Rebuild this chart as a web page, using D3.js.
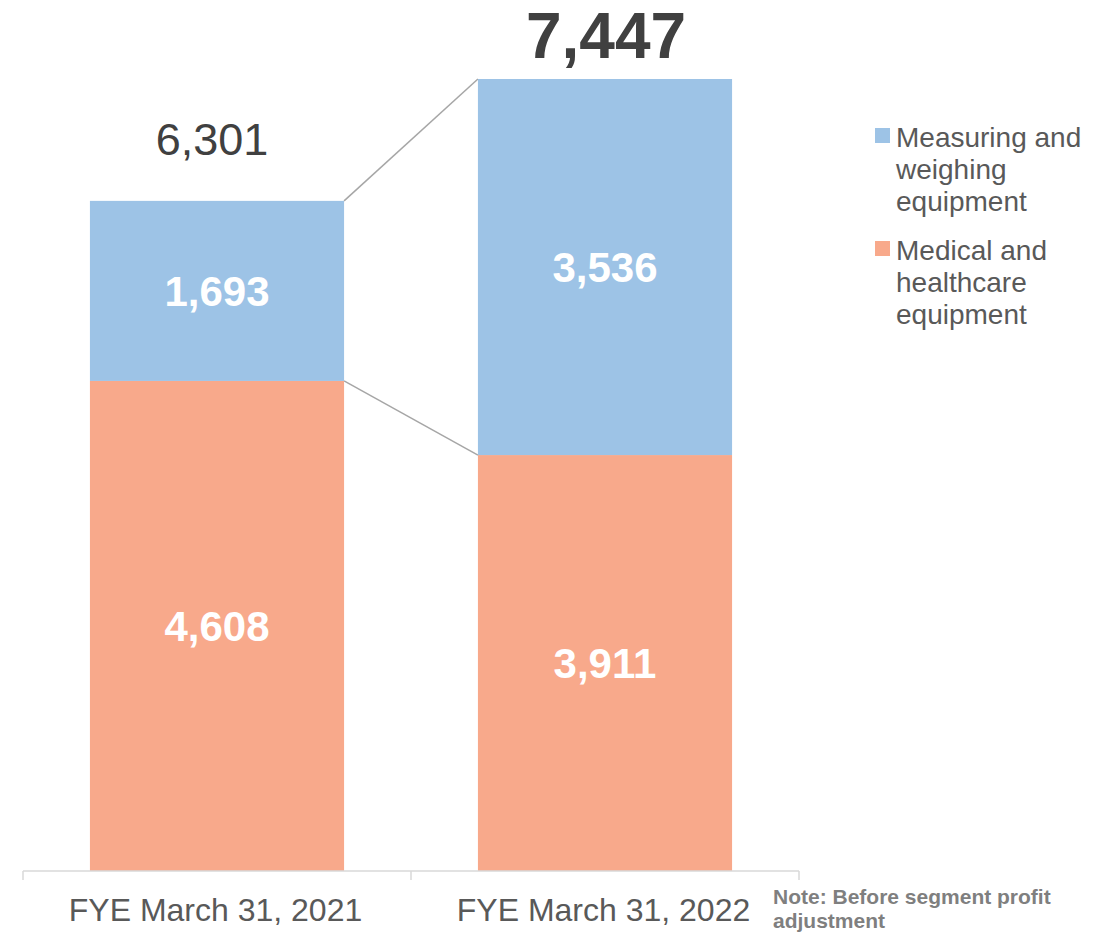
<!DOCTYPE html>
<html>
<head>
<meta charset="utf-8">
<script src="https://cdn.jsdelivr.net/npm/d3@7"></script>
<style>
  body { margin: 0; background: #fff; }
  text { font-family: "Liberation Sans", Arial, sans-serif; }
</style>
</head>
<body>
<script>
// data
var categories = ["FYE March 31, 2021", "FYE March 31, 2022"];
var medical = [4608, 3911];
var measuring = [1693, 3536];
var totals = [6301, 7447];
var seriesNames = [["Measuring and", "weighing", "equipment"], ["Medical and", "healthcare", "equipment"]];
var colors = ["#9dc3e6", "#f8a98b"];

var width = 1111, height = 933;

var svg = d3.select("body").append("svg")
  .attr("width", width)
  .attr("height", height);

var x = d3.scaleBand()
  .domain(categories)
  .range([23, 799])
  .paddingInner(0.345)
  .paddingOuter(0.1725);

var y = d3.scaleLinear()
  .domain([0, 7447])
  .range([871, 79]);

var fmt = d3.format(",");

function label(parent, px, py, str, size, opts) {
  opts = opts || {};
  return parent.append("text")
    .attr("x", px).attr("y", py)
    .attr("text-anchor", opts.anchor || "middle")
    .attr("fill", opts.fill || "#595959")
    .attr("font-weight", opts.bold ? "bold" : "normal")
    .attr("font-size", size)
    .text(str);
}

// stacked rows
var rows = categories.map(function(c, i) {
  return { cat: c, med: medical[i], mea: measuring[i], total: totals[i] };
});

// connector lines between bars
var xr0 = x(categories[0]) + x.bandwidth(), xl1 = x(categories[1]);
svg.append("line")
  .attr("x1", xr0).attr("y1", y(rows[0].med + rows[0].mea))
  .attr("x2", xl1).attr("y2", y(rows[1].med + rows[1].mea))
  .attr("stroke", "#a6a6a6").attr("stroke-width", 1.5);
svg.append("line")
  .attr("x1", xr0).attr("y1", y(rows[0].med))
  .attr("x2", xl1).attr("y2", y(rows[1].med))
  .attr("stroke", "#a6a6a6").attr("stroke-width", 1.5);

// medical (bottom)
svg.selectAll(".med").data(rows).enter().append("rect")
  .attr("x", function(d) { return x(d.cat); })
  .attr("y", function(d) { return y(d.med); })
  .attr("width", x.bandwidth())
  .attr("height", function(d) { return y(0) - y(d.med); })
  .attr("fill", colors[1]);

// measuring (top)
svg.selectAll(".mea").data(rows).enter().append("rect")
  .attr("x", function(d) { return x(d.cat); })
  .attr("y", function(d) { return y(d.med + d.mea); })
  .attr("width", x.bandwidth())
  .attr("height", function(d) { return y(d.med) - y(d.med + d.mea); })
  .attr("fill", colors[0]);

// segment labels
rows.forEach(function(d) {
  var cx = x(d.cat) + x.bandwidth() / 2;
  label(svg, cx, y(d.med / 2) + 15, fmt(d.med), 42, { fill: "#fff", bold: true });
  label(svg, cx, y(d.med + d.mea / 2) + 15, fmt(d.mea), 42, { fill: "#fff", bold: true });
});

// totals
label(svg, x(categories[0]) + x.bandwidth() / 2 - 5, 155, fmt(totals[0]), 45, { fill: "#404040" });
label(svg, x(categories[1]) + x.bandwidth() / 2 + 1, 58, fmt(totals[1]), 64, { fill: "#404040", bold: true });

// x axis
var axis = svg.append("g").attr("transform", "translate(0,871)");
axis.append("line").attr("x1", 23).attr("x2", 799)
  .attr("stroke", "#d9d9d9").attr("stroke-width", 1.5);
[23, 411, 799].forEach(function(t) {
  axis.append("line").attr("x1", t).attr("x2", t).attr("y1", 0).attr("y2", 9)
    .attr("stroke", "#d9d9d9").attr("stroke-width", 1.5);
});
categories.forEach(function(c) {
  label(axis, x(c) + x.bandwidth() / 2 - 1.5, 50, c, 32);
});

// legend
var legend = svg.append("g");
seriesNames.forEach(function(lines, i) {
  var top = 122 + i * 113;
  legend.append("rect")
    .attr("x", 875).attr("y", top + 6).attr("width", 15).attr("height", 15)
    .attr("fill", colors[i]);
  lines.forEach(function(l, j) {
    label(legend, 896, top + 25 + j * 32, l, 28, { anchor: "start" });
  });
});

// note
label(svg, 773, 904, "Note: Before segment profit", 21, { anchor: "start", fill: "#7f7f7f", bold: true });
label(svg, 773, 928, "adjustment", 21, { anchor: "start", fill: "#7f7f7f", bold: true });
</script>
</body>
</html>
